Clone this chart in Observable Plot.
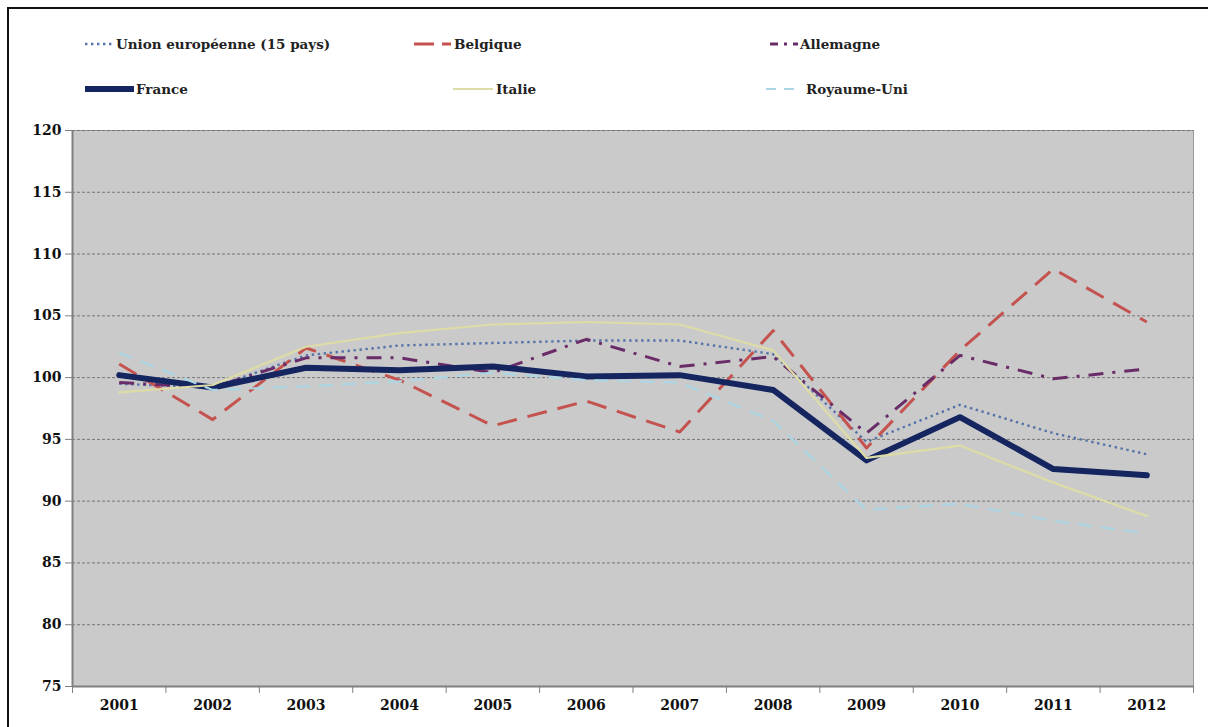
<!DOCTYPE html>
<html>
<head>
<meta charset="utf-8">
<script src="https://cdn.jsdelivr.net/npm/d3@7"></script>
<script src="https://cdn.jsdelivr.net/npm/@observablehq/plot@0.6"></script>
<style>
  body { margin:0; background:#fff; width:1208px; height:727px; overflow:hidden; position:relative; }
  #frame { position:absolute; left:7px; top:7px; width:1230px; height:760px; border:2px solid #111; box-sizing:border-box; }
  #legend { position:absolute; left:0; top:0; }
  #chart { position:absolute; left:0; top:115px; }
</style>
</head>
<body>
<div id="frame"></div>
<svg id="legend" width="1208" height="115"></svg>
<div id="chart"></div>
<script>
const years = [2001, 2002, 2003, 2004, 2005, 2006, 2007, 2008, 2009, 2010, 2011, 2012];
const yTicks = [75, 80, 85, 90, 95, 100, 105, 110, 115, 120];
const seriesNames = ["Union européenne (15 pays)", "Belgique", "Allemagne", "France", "Italie", "Royaume-Uni"];
const ue15      = [99.5, 99.2, 101.8, 102.6, 102.8, 103.0, 103.0, 101.9, 94.8, 97.8, 95.5, 93.8];
const belgique  = [101.1, 96.6, 102.4, 99.8, 96.1, 98.1, 95.6, 103.8, 94.3, 102.2, 108.8, 104.5];
const allemagne = [99.6, 99.2, 101.6, 101.6, 100.4, 103.1, 100.9, 101.7, 95.5, 101.8, 99.9, 100.7];
const france    = [100.2, 99.2, 100.8, 100.6, 100.9, 100.1, 100.2, 99.0, 93.3, 96.8, 92.6, 92.1];
const italie    = [98.8, 99.4, 102.5, 103.6, 104.3, 104.5, 104.3, 102.2, 93.5, 94.5, 91.5, 88.8];
const royaumeUni= [102.0, 99.0, 99.3, 99.7, 100.4, 99.8, 99.6, 96.5, 89.3, 89.8, 88.4, 87.4];

const seriesValues = [ue15, belgique, allemagne, france, italie, royaumeUni];
const styles = [
  {stroke:"#5573a8", strokeWidth:2.4, dash:"2.4 3.6", cap:"butt"},
  {stroke:"#c4534f", strokeWidth:3, dash:"20 11", cap:"butt"},
  {stroke:"#6a2c68", strokeWidth:3, dash:"15 9 3 9", cap:"butt"},
  {stroke:"#142560", strokeWidth:6, dash:null, cap:"round"},
  {stroke:"#dedca6", strokeWidth:2.2, dash:null, cap:"round"},
  {stroke:"#acd6e4", strokeWidth:2.2, dash:"14 9", cap:"butt"}
];

const rows = seriesNames.flatMap((name, s) => years.map((year, i) => ({series: name, year, value: seriesValues[s][i]})));
const boundaries = [...years.map(y => y - 0.5), years[years.length - 1] + 0.5];
const font = "DejaVu Serif";

const lineMarks = seriesNames.map((name, s) => Plot.line(rows.filter(d => d.series === name), {
  x: "year", y: "value",
  stroke: styles[s].stroke,
  strokeWidth: styles[s].strokeWidth,
  strokeDasharray: styles[s].dash,
  strokeLinecap: styles[s].cap,
  strokeLinejoin: "round"
}));

const chart = Plot.plot({
  width: 1208,
  height: 612,
  marginLeft: 72,
  marginRight: 15,
  marginTop: 15,
  marginBottom: 41,
  style: {fontFamily: font, fontWeight: "bold", fontSize: "13px", color: "#111", background: "transparent"},
  x: {type: "linear", domain: [boundaries[0], boundaries[boundaries.length - 1]]},
  y: {domain: [yTicks[0], yTicks[yTicks.length - 1]]},
  marks: [
    Plot.frame({fill: "#cacaca", stroke: "#9a9a9a"}),
    Plot.gridY(yTicks, {stroke: "#6e6e6e", strokeOpacity: 0.9, strokeDasharray: "3 2", strokeWidth: 1}),
    Plot.axisY({ticks: yTicks, tickSize: 7, tickPadding: 4, stroke: "#7f7f7f", label: null, fontSize: 14}),
    Plot.axisX({ticks: boundaries, tickSize: 7, tickFormat: () => "", stroke: "#7f7f7f", label: null}),
    Plot.axisX({ticks: years, tickSize: 0, tickPadding: 14, tickFormat: d => String(d), label: null, fontSize: 14}),
    Plot.ruleX([boundaries[0]], {stroke: "#7f7f7f", strokeWidth: 2}),
    Plot.ruleY([yTicks[0]], {stroke: "#7f7f7f", strokeWidth: 2}),
    ...lineMarks
  ]
});
document.getElementById("chart").appendChild(chart);

// Legend
const legendPos = [
  {x: 85, w: 28, y: 44, tx: 116},
  {x: 414, w: 37, y: 44, tx: 454},
  {x: 770, w: 28, y: 44, tx: 800},
  {x: 85, w: 49, y: 89, tx: 136},
  {x: 453, w: 40, y: 89, tx: 496},
  {x: 766, w: 30, y: 89, tx: 806}
];
const lg = d3.select("#legend");
seriesNames.forEach((name, s) => {
  const p = legendPos[s], st = styles[s];
  lg.append("line")
    .attr("x1", p.x).attr("x2", p.x + p.w).attr("y1", p.y).attr("y2", p.y)
    .attr("stroke", st.stroke).attr("stroke-width", st.strokeWidth)
    .attr("stroke-dasharray", s === 1 ? "20 8" : s === 2 ? "8 6 3 6" : s === 5 ? "10 8" : st.dash)
    .attr("stroke-linecap", "butt");
  lg.append("text")
    .attr("x", p.tx).attr("y", p.y).attr("dy", "0.35em")
    .attr("font-family", font).attr("font-weight", "bold").attr("font-size", 13.5)
    .attr("fill", "#222")
    .text(name);
});
</script>
</body>
</html>
